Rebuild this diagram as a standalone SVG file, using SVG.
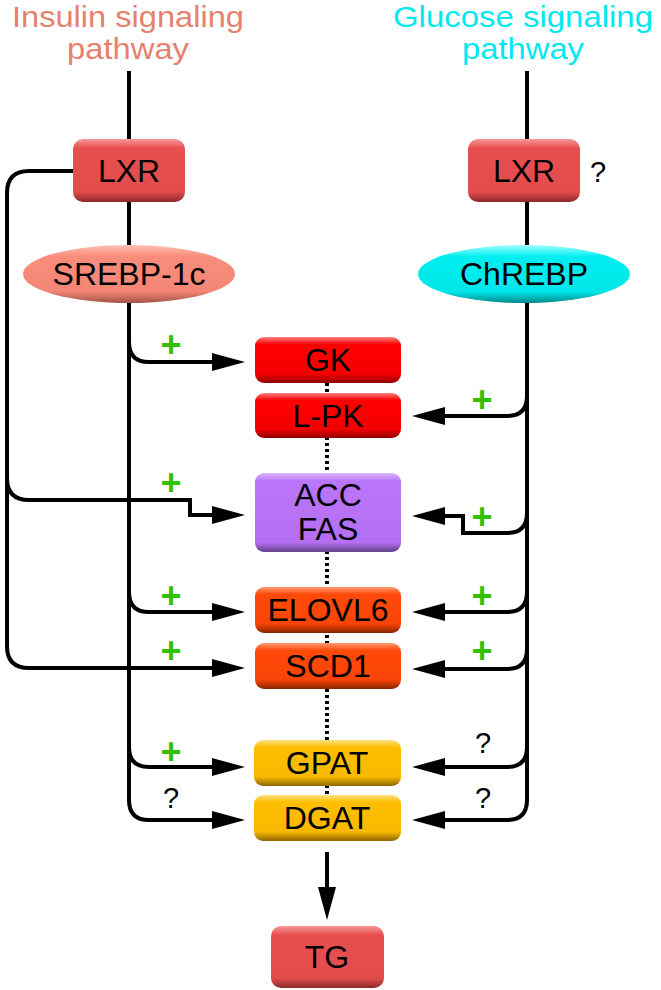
<svg xmlns="http://www.w3.org/2000/svg" width="661" height="990" viewBox="0 0 661 990">
<defs>
<linearGradient id="gLxr" x1="0" y1="0" x2="0" y2="1"><stop offset="0" stop-color="#f59a9a"/><stop offset="0.14" stop-color="#e85050"/><stop offset="0.84" stop-color="#e24c4c"/><stop offset="1" stop-color="#8c2a2a"/></linearGradient>
<linearGradient id="gRed" x1="0" y1="0" x2="0" y2="1"><stop offset="0" stop-color="#ff8080"/><stop offset="0.16" stop-color="#ff0000"/><stop offset="0.8" stop-color="#f40000"/><stop offset="1" stop-color="#900000"/></linearGradient>
<linearGradient id="gPur" x1="0" y1="0" x2="0" y2="1"><stop offset="0" stop-color="#dcb8ff"/><stop offset="0.1" stop-color="#bb75fa"/><stop offset="0.88" stop-color="#b56ff2"/><stop offset="1" stop-color="#62408a"/></linearGradient>
<linearGradient id="gOra" x1="0" y1="0" x2="0" y2="1"><stop offset="0" stop-color="#ff9a70"/><stop offset="0.16" stop-color="#ff4a0a"/><stop offset="0.8" stop-color="#f84406"/><stop offset="1" stop-color="#8a2400"/></linearGradient>
<linearGradient id="gGold" x1="0" y1="0" x2="0" y2="1"><stop offset="0" stop-color="#ffe080"/><stop offset="0.16" stop-color="#ffbe00"/><stop offset="0.8" stop-color="#f8b800"/><stop offset="1" stop-color="#8f6600"/></linearGradient>
<linearGradient id="gSal" x1="0" y1="0" x2="0" y2="1"><stop offset="0" stop-color="#ffc0b4"/><stop offset="0.2" stop-color="#f98c7a"/><stop offset="0.8" stop-color="#f48676"/><stop offset="1" stop-color="#a05446"/></linearGradient>
<linearGradient id="gCyan" x1="0" y1="0" x2="0" y2="1"><stop offset="0" stop-color="#a0ffff"/><stop offset="0.2" stop-color="#00eef0"/><stop offset="0.8" stop-color="#00e6e8"/><stop offset="1" stop-color="#008a8c"/></linearGradient>
<marker id="ah" markerUnits="userSpaceOnUse" markerWidth="34" markerHeight="20" refX="0" refY="9" orient="auto" overflow="visible">
<path d="M0,0 L33,9 L0,18 Z" fill="#000"/>
</marker>
</defs>
<style>
.t{font-family:"Liberation Sans",Arial,sans-serif;font-size:32px;text-anchor:middle;fill:#000}
.title{font-family:"Liberation Sans",Arial,sans-serif;font-size:30px;text-anchor:middle}
.plus{font-family:"Liberation Sans",Arial,sans-serif;font-size:36px;font-weight:bold;text-anchor:middle;fill:#33c000}
.q{font-family:"Liberation Sans",Arial,sans-serif;font-size:29px;text-anchor:middle;fill:#000}
.c{fill:none;stroke:#000;stroke-width:4}
.a{fill:none;stroke:#000;stroke-width:4;marker-end:url(#ah)}
.dot{fill:none;stroke:#000;stroke-width:4;stroke-dasharray:3 3}
</style>

<g id="title-insulin"><text class="title" fill="#e8806e"><tspan x="128" y="27" textLength="232" lengthAdjust="spacingAndGlyphs">Insulin signaling</tspan><tspan x="128" y="59" textLength="122" lengthAdjust="spacingAndGlyphs">pathway</tspan></text></g>
<g id="title-glucose"><text class="title" fill="#00e8f0"><tspan x="523" y="27" textLength="260" lengthAdjust="spacingAndGlyphs">Glucose signaling</tspan><tspan x="523" y="59" textLength="122" lengthAdjust="spacingAndGlyphs">pathway</tspan></text></g>

<g id="connectors">
<path class="dot" d="M327 383 V795"/>
<path class="c" d="M129 71 V139 M129 202 V245"/>
<path class="c" d="M527 71 V139 M527 202 V245"/>
<path class="a" d="M129 303 V800 Q129 820 149 820 H212"/>
<path class="a" d="M129 342 Q129 362 149 362 H212"/>
<path class="a" d="M129 592 Q129 612 149 612 H212"/>
<path class="a" d="M129 747 Q129 767 149 767 H212"/>
<path class="a" d="M73 171 H29 Q7 171 7 193 V646 Q7 668 29 668 H212"/>
<path class="a" d="M7 478 Q7 500 29 500 H190 V515 H212"/>
<path class="a" d="M527 303 V800 Q527 820 507 820 H445"/>
<path class="a" d="M527 396 Q527 416 507 416 H445"/>
<path class="a" d="M527 513 Q527 533 507 533 H463 V516 H445"/>
<path class="a" d="M527 592 Q527 612 507 612 H445"/>
<path class="a" d="M527 649 Q527 669 507 669 H445"/>
<path class="a" d="M527 747 Q527 767 507 767 H445"/>
<path class="a" d="M327 852 V887"/>
</g>

<g id="lxr-left"><rect x="73" y="139" width="112" height="63" rx="10" fill="url(#gLxr)"/><text class="t" x="129" y="182">LXR</text></g>
<g id="lxr-right"><rect x="468" y="139" width="112" height="63" rx="10" fill="url(#gLxr)"/><text class="t" x="524" y="182">LXR</text></g>
<g id="lxr-right-q"><text class="q" x="598" y="182">?</text></g>
<g id="srebp"><ellipse cx="129" cy="274" rx="106" ry="29" fill="url(#gSal)"/><text class="t" x="129" y="285">SREBP-1c</text></g>
<g id="chrebp"><ellipse cx="524" cy="274" rx="106" ry="29" fill="url(#gCyan)"/><text class="t" x="524" y="285">ChREBP</text></g>

<g id="gk"><rect x="255" y="337" width="146" height="46" rx="9" fill="url(#gRed)"/><text class="t" x="328" y="371">GK</text></g>
<g id="lpk"><rect x="255" y="393" width="146" height="45" rx="9" fill="url(#gRed)"/><text class="t" x="328" y="427">L-PK</text></g>
<g id="accfas"><rect x="255" y="473" width="146" height="79" rx="9" fill="url(#gPur)"/><text class="t" x="328" y="506">ACC</text><text class="t" x="328" y="540">FAS</text></g>
<g id="elovl6"><rect x="255" y="587" width="146" height="46" rx="9" fill="url(#gOra)"/><text class="t" x="328" y="621">ELOVL6</text></g>
<g id="scd1"><rect x="255" y="643" width="146" height="46" rx="9" fill="url(#gOra)"/><text class="t" x="328" y="677">SCD1</text></g>
<g id="gpat"><rect x="254" y="740" width="147" height="46" rx="9" fill="url(#gGold)"/><text class="t" x="327" y="774">GPAT</text></g>
<g id="dgat"><rect x="254" y="795" width="147" height="46" rx="9" fill="url(#gGold)"/><text class="t" x="327" y="829">DGAT</text></g>
<g id="tg"><rect x="271" y="926" width="113" height="62" rx="10" fill="url(#gLxr)"/><text class="t" x="327" y="968">TG</text></g>

<g id="labels">
<text class="plus" x="171" y="357">+</text>
<text class="plus" x="171" y="495">+</text>
<text class="plus" x="171" y="608">+</text>
<text class="plus" x="171" y="663">+</text>
<text class="plus" x="171" y="764">+</text>
<text class="q" x="171" y="808">?</text>
<text class="plus" x="482" y="412">+</text>
<text class="plus" x="482" y="529">+</text>
<text class="plus" x="482" y="608">+</text>
<text class="plus" x="482" y="663">+</text>
<text class="q" x="483" y="753">?</text>
<text class="q" x="483" y="808">?</text>
</g>
</svg>
